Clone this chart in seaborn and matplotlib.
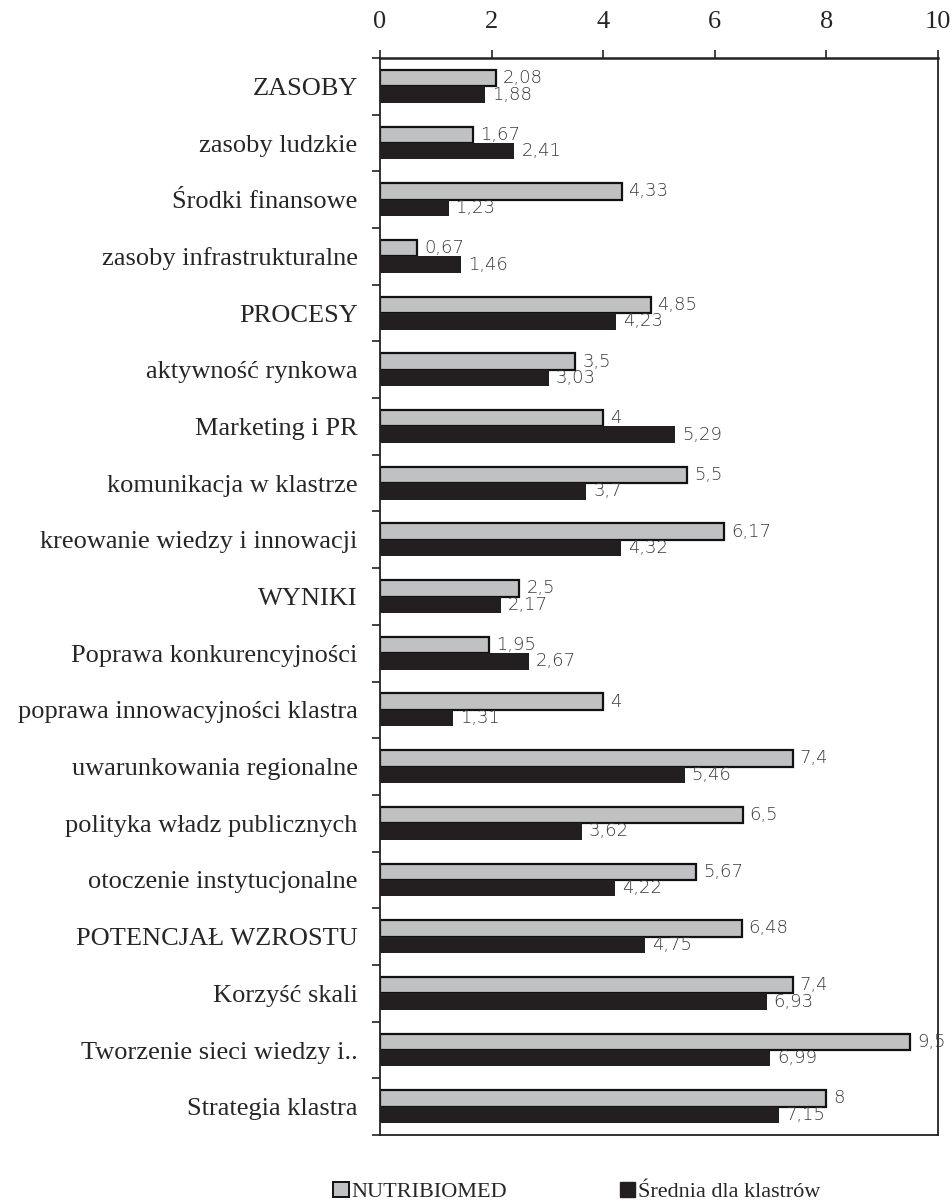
import numpy as np
import pandas as pd
import matplotlib
matplotlib.use("Agg")
import matplotlib.pyplot as plt
import matplotlib.transforms as mtransforms
import seaborn as sns
from matplotlib.patches import Patch

categories = ["ZASOBY", "zasoby ludzkie", "Środki finansowe", "zasoby infrastrukturalne",
              "PROCESY", "aktywność rynkowa", "Marketing i PR", "komunikacja w klastrze",
              "kreowanie wiedzy i innowacji", "WYNIKI", "Poprawa konkurencyjności",
              "poprawa innowacyjności klastra", "uwarunkowania regionalne",
              "polityka władz publicznych", "otoczenie instytucjonalne",
              "POTENCJAŁ WZROSTU", "Korzyść skali", "Tworzenie sieci wiedzy i..",
              "Strategia klastra"]
nutribiomed = [2.08, 1.67, 4.33, 0.67, 4.85, 3.5, 4, 5.5, 6.17, 2.5, 1.95, 4,
               7.4, 6.5, 5.67, 6.48, 7.4, 9.5, 8]
srednia = [1.88, 2.41, 1.23, 1.46, 4.23, 3.03, 5.29, 3.7, 4.32, 2.17, 2.67, 1.31,
           5.46, 3.62, 4.22, 4.75, 6.93, 6.99, 7.15]
series = ["NUTRIBIOMED", "Średnia dla klastrów"]

df = pd.DataFrame({
    "cat": categories * 2,
    "val": nutribiomed + srednia,
    "ser": [series[0]] * len(categories) + [series[1]] * len(categories),
})

sns.set_theme(style="white")
plt.rcParams["font.family"] = ["Liberation Serif", "DejaVu Serif"]

grey = "#c0c1c3"
dark = "#231f20"

fig = plt.figure(figsize=(9.53, 12.03), dpi=100)
ax = fig.add_axes([0.3987, 0.0565, 0.5856, 0.8953])

sns.barplot(data=df, y="cat", x="val", hue="ser", orient="h", order=categories,
            hue_order=series, palette=[grey, dark], width=0.58, ax=ax,
            legend=False, saturation=1)

for i, cont in enumerate(ax.containers):
    for p in cont:
        if i == 0:
            p.set_edgecolor("#111111")
            p.set_linewidth(1.6)
        else:
            p.set_edgecolor(dark)
            p.set_linewidth(0)
    labels = [("%g" % v).replace(".", ",") for v in (nutribiomed if i == 0 else srednia)]
    texts = ax.bar_label(cont, labels=labels, padding=5, fontsize=13, color="#3a3a3a",
                         family="DejaVu Sans", fontweight="light")
    # nudge the two labels of a group apart a little
    dy = 1.5 if i == 0 else -2.5
    for t in texts:
        t.set_transform(t.get_transform() + mtransforms.ScaledTranslation(0, dy / 72, fig.dpi_scale_trans))

ax.set_xlim(0, 10)
ax.set_ylim(len(categories) - 0.5, -0.5)
ax.set_xticks([0, 2, 4, 6, 8, 10])
ax.xaxis.tick_top()
ax.tick_params(axis="x", which="major", top=True, bottom=False, length=6, width=1.2,
               direction="out", labelsize=19, pad=12, color="#222222")
ax.set_yticks(range(len(categories)))
ax.set_yticklabels(categories)
ax.set_yticks(np.arange(-0.5, len(categories), 1), minor=True)
ax.tick_params(axis="y", which="major", left=False, length=0, labelsize=19, pad=16)
ax.tick_params(axis="y", which="minor", left=True, length=6, width=1.2,
               direction="out", color="#222222")
ax.set_xlabel("")
ax.set_ylabel("")
for s in ax.spines.values():
    s.set_visible(True)
    s.set_color("#222222")
    s.set_linewidth(1.3)
ax.spines["top"].set_linewidth(1.8)

handles = [Patch(facecolor=grey, edgecolor="#111111", linewidth=1.4),
           Patch(facecolor=dark, edgecolor=dark)]
fig.legend(handles, series, loc="lower center", bbox_to_anchor=(0.605, -0.016), ncol=2,
           frameon=False, fontsize=16, handlelength=0.7, handleheight=0.7,
           handletextpad=0.1, columnspacing=5.1)

fig.savefig("out.png", dpi=100)
